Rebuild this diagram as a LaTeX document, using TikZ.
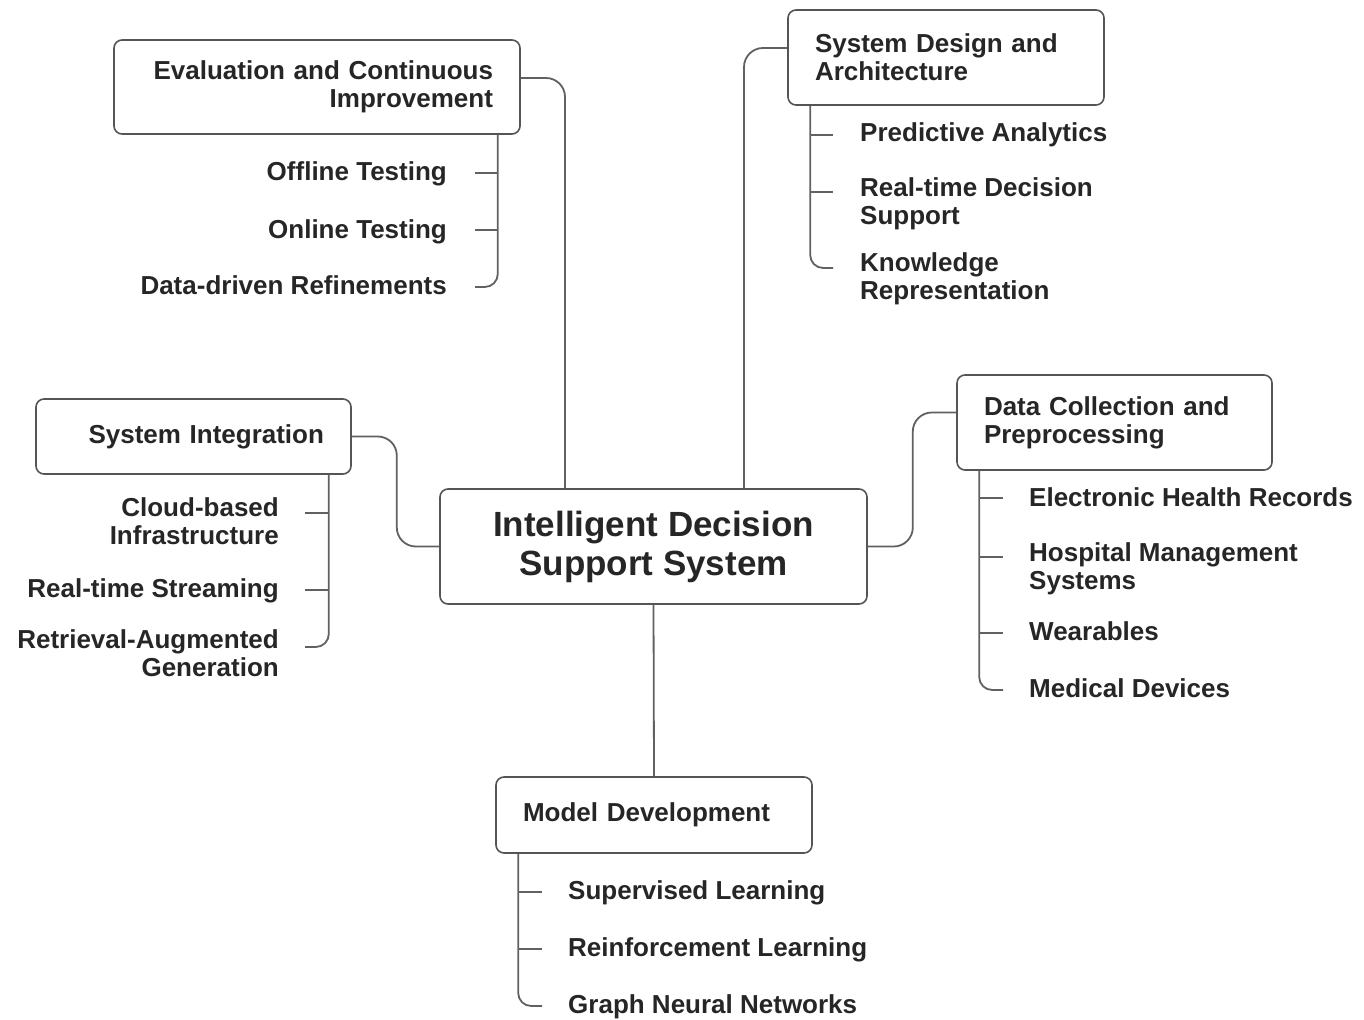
\documentclass[tikz,border=0pt]{standalone}
\usepackage{fontspec}
\setmainfont{Liberation Sans}
\definecolor{linec}{HTML}{616161}
\definecolor{boxc}{HTML}{555555}
\definecolor{txt}{HTML}{262626}

\begin{document}
\begin{tikzpicture}[x=1pt, y=-1pt,
    box/.style={draw=boxc, line width=1.6pt, rounded corners=8pt, fill=white,
                inner xsep=27pt, inner ysep=0pt, text=txt,
                font=\fontsize{26}{28}\selectfont\bfseries},
    leaf/.style={inner sep=0pt, text=txt, font=\fontsize{26}{28}\selectfont\bfseries},
    link/.style={draw=linec, line width=1.8pt, rounded corners=19pt},
    branch/.style={draw=linec, line width=1.8pt, rounded corners=13pt}]

            %\draw [help lines, step=50] (0,0) grid (1364,1019);
            \useasboundingbox (0,0) rectangle (1364,1019);

            \path   (653.5,546.5) node (ids) [box, minimum width=427pt, minimum height=115pt, align=center,
                                             font=\fontsize{35}{39}\selectfont\bfseries] {Intelligent Decision\\Support System}
                    (317,87)      node (eval) [box, text width=352pt, minimum height=94pt, align=right] {Evaluation and Continuous\\Improvement}
                    (946,57.5)    node (sd)   [box, text width=262pt, minimum height=95pt, align=left] {System Design and\\Architecture}
                    (193.5,436.5) node (si)   [box, text width=261pt, minimum height=75pt, align=right] {System Integration}
                    (1114.5,422.5) node (dc)  [box, text width=261pt, minimum height=95pt, align=left] {Data Collection and\\Preprocessing}
                    (654,815)     node (md)   [box, text width=262pt, minimum height=76pt, align=left] {Model Development};

            % leaves (base = last line)
            \path   (447,181)  node (off) [leaf, anchor=base east] {Offline Testing}
                    (447,238)  node (onl) [leaf, anchor=base east] {Online Testing}
                    (447,294)  node (ddr) [leaf, anchor=base east] {Data-driven Refinements}
                    (860,142)  node (pa)  [leaf, anchor=base west] {Predictive Analytics}
                    (860,224)  node (rtd) [leaf, anchor=base west, align=left] {Real-time Decision\\Support}
                    (860,299)  node (kr)  [leaf, anchor=base west, align=left] {Knowledge\\Representation}
                    (279,544)  node (cbi) [leaf, anchor=base east, align=right] {Cloud-based\\Infrastructure}
                    (279,597)  node (rts) [leaf, anchor=base east] {Real-time Streaming}
                    (279,676)  node (rag) [leaf, anchor=base east, align=right] {Retrieval-Augmented\\Generation}
                    (1029,506) node (ehr) [leaf, anchor=base west] {Electronic Health Records}
                    (1029,589) node (hms) [leaf, anchor=base west, align=left] {Hospital Management\\Systems}
                    (1029,640) node (wea) [leaf, anchor=base west] {Wearables}
                    (1029,697) node (med) [leaf, anchor=base west] {Medical Devices}
                    (568,899)  node (sl)  [leaf, anchor=base west] {Supervised Learning}
                    (568,956)  node (rl)  [leaf, anchor=base west] {Reinforcement Learning}
                    (568,1013) node (gnn) [leaf, anchor=base west] {Graph Neural Networks};

            % tick ends
            \coordinate (off-t) at (475,173);
            \coordinate (onl-t) at (475,230);
            \coordinate (ddr-t) at (475,287);
            \coordinate (pa-t)  at (833,135);
            \coordinate (rtd-t) at (833,192);
            \coordinate (kr-t)  at (833,268);
            \coordinate (cbi-t) at (305,513);
            \coordinate (rts-t) at (305,590);
            \coordinate (rag-t) at (305,647);
            \coordinate (ehr-t) at (1003,498);
            \coordinate (hms-t) at (1003,557);
            \coordinate (wea-t) at (1003,633);
            \coordinate (med-t) at (1003,690);
            \coordinate (sl-t)  at (542,892);
            \coordinate (rl-t)  at (542,949);
            \coordinate (gnn-t) at (542,1006);

            \coordinate (evb) at ([xshift=-23pt]eval.south east);
            \coordinate (sdb) at ([xshift=23pt]sd.south west);
            \coordinate (sib) at ([xshift=-23pt]si.south east);
            \coordinate (dcb) at ([xshift=23pt]dc.south west);
            \coordinate (mdb) at ([xshift=23pt]md.south west);

            % main branches
            \draw[link] ([yshift=9pt]eval.east) -| ([xshift=-88.5pt]ids.north);
            \draw[link] ([xshift=90.5pt]ids.north) |- ([yshift=9.5pt]sd.west);
            \draw[link] (si.east) -- ++(45,0) |- (ids.west);
            \draw[link] (ids.east) -- ++(45,0) |- ([yshift=10pt]dc.west);
            \draw[link] (ids.south) -- (md.north);

            % sub branches
            \draw[branch] (evb) |- (ddr-t);
            \draw[branch] (evb |- off-t) -- (off-t);
            \draw[branch] (evb |- onl-t) -- (onl-t);

            \draw[branch] (sdb) |- (kr-t);
            \draw[branch] (sdb |- pa-t) -- (pa-t);
            \draw[branch] (sdb |- rtd-t) -- (rtd-t);

            \draw[branch] (sib) |- (rag-t);
            \draw[branch] (sib |- cbi-t) -- (cbi-t);
            \draw[branch] (sib |- rts-t) -- (rts-t);

            \draw[branch] (dcb) |- (med-t);
            \draw[branch] (dcb |- ehr-t) -- (ehr-t);
            \draw[branch] (dcb |- hms-t) -- (hms-t);
            \draw[branch] (dcb |- wea-t) -- (wea-t);

            \draw[branch] (mdb) |- (gnn-t);
            \draw[branch] (mdb |- sl-t) -- (sl-t);
            \draw[branch] (mdb |- rl-t) -- (rl-t);

        \end{tikzpicture}
\end{document}
